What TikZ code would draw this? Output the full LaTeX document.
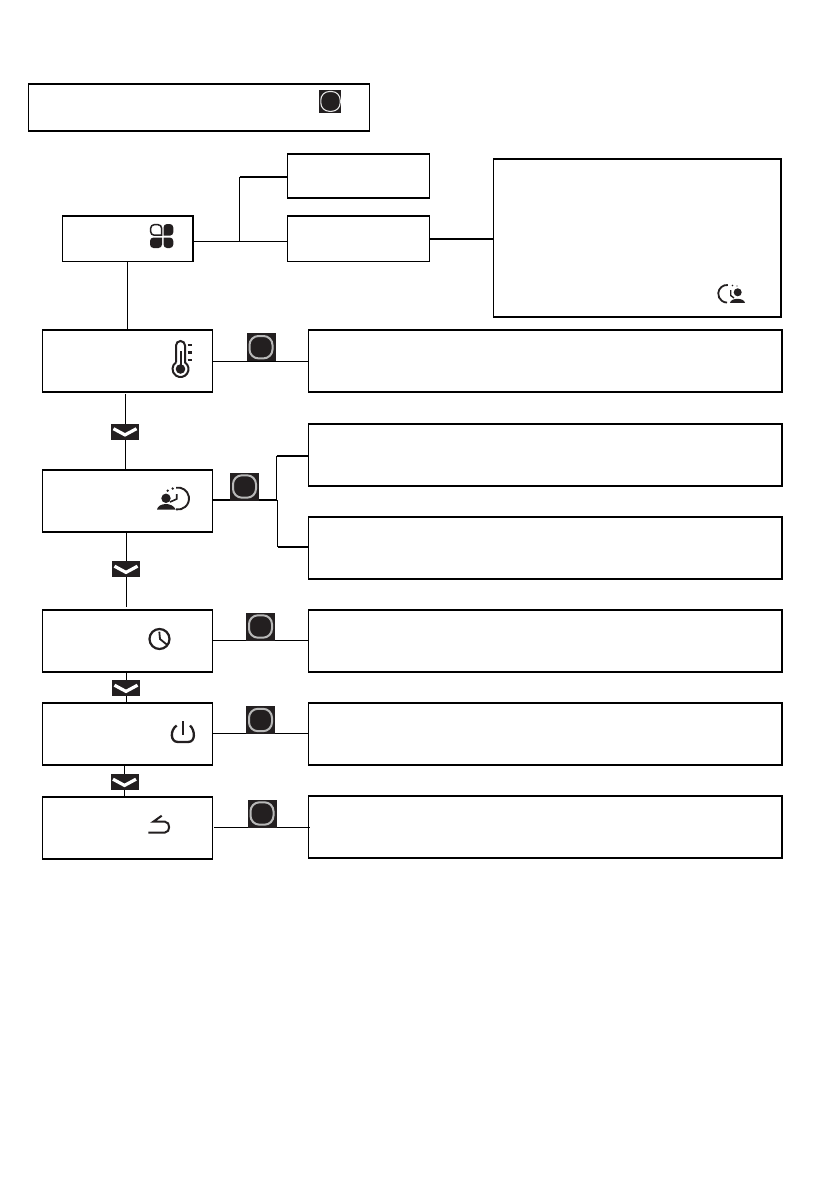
\documentclass[tikz,border=0pt]{standalone}
\definecolor{ink}{HTML}{231F20}
\tikzset{
  x=1pt,y=-1pt,
  box/.style={draw=black,line width=1.1pt,minimum width=0pt,inner sep=0pt,outer sep=0pt,rectangle},
  link/.style={draw=black,line width=1pt},
  heavy/.style={draw=black,line width=2pt},
  okbtn/.style={fill=ink,draw=none,minimum width=29pt,minimum height=28pt,inner sep=0pt,outer sep=0pt,rectangle},
  chevbtn/.style={fill=ink,draw=none,minimum width=28pt,minimum height=16pt,inner sep=0pt,outer sep=0pt,rectangle},
}
% #1 name, #2 x0, #3 y0, #4 x1, #5 y1
\newcommand{\bx}[5]{%
  \node[box,minimum width=#4pt-#2pt,minimum height=#5pt-#3pt,anchor=north west] (#1) at (#2,#3) {};
  \draw[line width=1.9pt] ([yshift=-0.2pt]#1.north west) -- ([yshift=-0.2pt]#1.north east);
}
\newcommand{\okb}[3]{% name x y
  \node[okbtn] (#1) at (#2,#3) {};
  \draw[draw=white!72!black,line width=2pt,rounded corners=9pt] (#2-11.5,#3-11.2) rectangle (#2+11.5,#3+11.2);
}
\newcommand{\chv}[3]{% name x y
  \node[chevbtn] (#1) at (#2,#3) {};
  \draw[white,line width=3.2pt] (#2-11.5,#3-2.8) -- (#2,#3+3.4) -- (#2+11.5,#3-2.8);
}
\begin{document}
\begin{tikzpicture}
\useasboundingbox[fill=white] (0,0) rectangle (839,1191);
% boxes
\bx{top}{28.5}{84}{369.5}{131}
\bx{boxa}{287.5}{153.5}{429.5}{198}
\bx{boxb}{287.5}{215.5}{429.5}{261.5}
\bx{menu}{62.5}{215.5}{193}{261.5}
\bx{large}{493.5}{159}{781}{317}
\bx{rowa}{42.5}{330}{212.5}{392}
\bx{rowb}{42.5}{470}{212.5}{532}
\bx{rowc}{42.5}{610}{212.5}{672}
\bx{rowd}{42.5}{703}{212.5}{765}
\bx{rowe}{42.5}{797}{212.5}{859}
\bx{resa}{308.5}{330}{782}{392}
\bx{resb}{308.5}{424}{782}{486}
\bx{resc}{308.5}{517}{782}{579}
\bx{resd}{308.5}{610}{782}{672}
\bx{rese}{308.5}{703}{782}{765}
\bx{resf}{308.5}{796}{782}{858}
% junction coordinates
\coordinate (ja) at (239.5,241);
\coordinate (jb) at (277,500);
% connectors
\draw[link] (menu.east |- ja) -- (boxb.west |- ja);
\draw[link] (ja) -- (239.5,177) coordinate (jc);
\draw[heavy] (jc) -- (boxa.west |- jc);
\draw[heavy] (boxb.east |- 0,238.5) -- (large.west |- 0,238.5);
\draw[link] (127.5,261.5) -- (127.5,330);
\draw[link] (rowa.east |- 0,361.5) -- (resa.west |- 0,361.5);
\draw[link] (rowc.east |- 0,640.5) -- (resd.west |- 0,640.5);
\draw[link] (rowd.east |- 0,733.5) -- (rese.west |- 0,733.5);
\draw[link] (214,827.5) -- (310,827.5);
\draw[line width=2.4pt] (rowb.east |- jb) -- (jb);
\draw[link] (276.5,500) -- (276.5,456) coordinate (jd);
\draw[heavy] (jd) -- (resb.west |- jd);
\draw[link] (277.5,500) -- (277.5,546.5) coordinate (je);
\draw[heavy] (je) -- (resc.west |- je);
% chevrons and buttons
\chv{cha}{125}{431.5}
\chv{chb}{126}{569}
\chv{chc}{126}{688}
\chv{chd}{124.5}{782}
\draw[link] (125.5,394) -- (cha.north -| 125.5,0);
\draw[link] (cha.south -| 125.5,0) -- (125.5,470);
\draw[link] (126.5,532) -- (chb.north -| 126.5,0);
\draw[link] (chb.south -| 126.5,0) -- (126.5,607);
\draw[link] (126.5,672) -- (chc.north -| 126.5,0);
\draw[link] (chc.south -| 126.5,0) -- (126.5,703);
\draw[link] (124.5,765) -- (chd.north -| 124.5,0);
\draw[link] (chd.south -| 124.5,0) -- (124.5,797);
\okb{oka}{261}{347.2}
\okb{okb}{244.5}{486.5}
\okb{okc}{260.5}{626.5}
\okb{okd}{260.5}{720}
\okb{oke}{262}{813.5}
% top button
\node[fill=ink,draw=none,minimum width=22pt,minimum height=22.5pt,inner sep=0pt,outer sep=0pt,rectangle] (oktop) at (330.2,101.3) {};
\draw[white!90!black,line width=1.1pt,rounded corners=8.5pt] (320.8,91.5) rectangle (340.2,111.3);
% four-petal menu icon
\draw[ink,line width=1.5pt] (161.6,235.2) [rounded corners=3.5pt] -- (161.6,224.7) -- (150.7,224.7) -- (150.7,235.2) [sharp corners] -- cycle;
\fill[ink] (163.5,235.7) [rounded corners=3.5pt] -- (163.5,224) -- (173.3,224) -- (173.3,235.7) [sharp corners] -- cycle;
\fill[ink] (162,237.5) [rounded corners=3.5pt] -- (150,237.5) -- (150,248) -- (162,248) [sharp corners] -- cycle;
\fill[ink] (163.5,237.5) [rounded corners=3.5pt] -- (173.3,237.5) -- (173.3,248) -- (163.5,248) [sharp corners] -- cycle;
% thermometer
\draw[ink,line width=2pt] (176,362.4) -- (176,345.5) arc[start angle=180,end angle=360,radius=4.5] -- (185,362.4)
  arc[start angle=-55.8,end angle=235.8,radius=8];
\fill[ink] (180.5,369) circle (4.8);
\draw[ink,line width=2pt] (180.5,351) -- (180.5,368);
\foreach \yy in {345,352.5,360} \draw[ink,line width=2.4pt] (187.7,\yy) -- (192,\yy);
% person + clock (row b)
\fill[ink] (166,498.3) circle (4.7);
\fill[ink] (157,509.5) .. controls (158,503) and (172,501.5) .. (175.7,509.5) -- cycle;
\draw[ink,line width=1.9pt] (176.1,487.7) arc[start angle=-100,end angle=100,radius=11];
\draw[ink,line width=1.6pt] (176.7,494) -- (176.7,499) -- (170,502);
\fill[ink] (167.7,490.7) circle (1.3) (172.7,488.5) circle (1.3);
% clock (row c)
\begin{scope}
\clip (140,620) rectangle (170.7,655);
\draw[ink,line width=2.2pt] (159.5,639) circle (10);
\end{scope}
\draw[ink,line width=1.8pt] (159.3,631.7) -- (160,639) -- (167.3,645);
% power (row d)
\draw[ink,line width=2.3pt] (183,721) -- (183,735);
\draw[ink,line width=2.3pt] (176.7,725.5) .. controls (170,730) and (170,742) .. (178,742) -- (188,742) .. controls (196,742) and (195,730) .. (190,725.5);
% return (row e)
\draw[ink,line width=2pt] (161.7,815.7) -- (153.3,821.7) -- (165,821.7) .. controls (170.5,821.7) and (170.5,832.5) .. (165,832.5) -- (148.3,832.5);
% clock + person (large box)
\draw[ink,line width=1.8pt] (727.8,285) arc[start angle=-85,end angle=-270,radius=8.8];
\fill[ink] (737.7,292.3) circle (4);
\fill[ink] (730,302.8) .. controls (731,297.5) and (744,297.5) .. (745,302.8) -- cycle;
\draw[ink,line width=1.4pt] (730.7,290) -- (730.7,295.5) -- (734,298);
\fill[ink] (732.5,285.5) circle (0.9) (737,286) circle (0.7);
\end{tikzpicture}
\end{document}
